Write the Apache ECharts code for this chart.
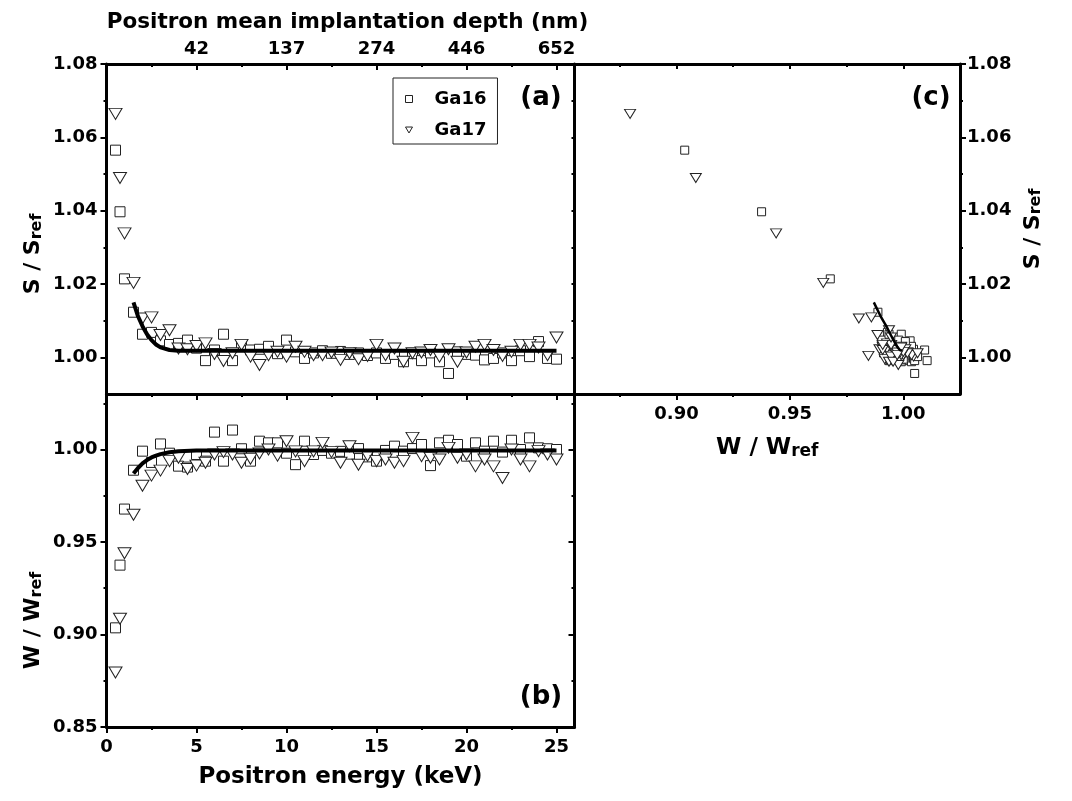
<!DOCTYPE html>
<html>
<head>
<meta charset="utf-8">
<script src="https://cdn.jsdelivr.net/npm/echarts@6.0.0/dist/echarts.min.js"></script>
<style>
html, body { margin: 0; padding: 0; background: #fff; }
#chart { width: 1072px; height: 801px; }
</style>
</head>
<body>
<div id="chart"></div>
<script>
// positron energy (keV), same for both samples
const energy = [0.5, 0.75, 1, 1.5, 2, 2.5, 3, 3.5, 4, 4.5, 5, 5.5, 6, 6.5, 7, 7.5, 8, 8.5, 9, 9.5,
    10, 10.5, 11, 11.5, 12, 12.5, 13, 13.5, 14, 14.5, 15, 15.5, 16, 16.5, 17, 17.5, 18, 18.5, 19, 19.5,
    20, 20.5, 21, 21.5, 22, 22.5, 23, 23.5, 24, 24.5, 25];

// S / Sref
const sGa16 = [1.0565, 1.0397, 1.0214, 1.0123, 1.0063, 1.0068, 1.0045, 1.0035, 1.0038, 1.0047,
    1.0025, 0.9991, 1.0020, 1.0063, 0.9991, 1.0035, 1.0020, 1.0022, 1.0030, 1.0010,
    1.0047, 1.0015, 0.9997, 1.0012, 1.0018, 1.0011, 1.0016, 1.0008, 1.0012, 1.0005,
    1.0012, 0.9997, 1.0008, 0.9988, 1.0010, 0.9991, 1.0012, 0.9988, 0.9956, 1.0015,
    1.0008, 1.0006, 0.9993, 0.9997, 1.0012, 0.9991, 1.0018, 1.0002, 1.0043, 0.9997, 0.9995];
const sGa17 = [1.0664, 1.0489, 1.0338, 1.0203, 1.0106, 1.0109, 1.0061, 1.0074, 1.0024, 1.0022,
    1.0031, 1.0038, 1.0009, 0.9990, 1.0011, 1.0034, 1.0002, 0.9979, 1.0006, 1.0015,
    1.0002, 1.0029, 1.0015, 1.0006, 1.0006, 1.0013, 0.9993, 1.0011, 0.9995, 1.0004,
    1.0034, 1.0006, 1.0024, 0.9988, 1.0011, 1.0013, 1.0020, 1.0002, 1.0022, 0.9988,
    1.0013, 1.0029, 1.0034, 1.0020, 1.0004, 1.0015, 1.0034, 1.0034, 1.0027, 1.0006, 1.0054];

// W / Wref
const wGa16 = [0.9036, 0.9375, 0.9678, 0.9888, 0.9991, 0.9930, 1.0030, 0.9980, 0.9910, 0.9905,
    0.9973, 0.9937, 1.0094, 0.9937, 1.0105, 1.0004, 0.9937, 1.0045, 1.0036, 1.0036,
    0.9980, 0.9918, 1.0045, 0.9973, 0.9995, 0.9980, 0.9990, 0.9975, 1.0005, 0.9960,
    0.9937, 0.9995, 1.0018, 0.9991, 1.0005, 1.0027, 0.9913, 1.0036, 1.0050, 1.0027,
    0.9964, 1.0036, 0.9991, 1.0045, 0.9986, 1.0050, 1.0000, 1.0063, 1.0009, 1.0004, 1.0000];
const wGa17 = [0.8795, 0.9085, 0.9439, 0.9647, 0.9804, 0.9859, 0.9886, 0.9937, 0.9955, 0.9895,
    0.9913, 0.9928, 0.9973, 0.9986, 0.9973, 0.9928, 0.9950, 0.9978, 1.0000, 0.9967,
    1.0045, 0.9990, 0.9937, 0.9990, 1.0036, 0.9986, 0.9928, 1.0018, 0.9918, 0.9967,
    0.9937, 0.9946, 0.9928, 0.9937, 1.0063, 0.9964, 0.9955, 0.9946, 1.0009, 0.9955,
    0.9973, 0.9909, 0.9946, 0.9909, 0.9846, 1.0000, 0.9946, 0.9909, 0.9991, 0.9973, 0.9946];

// fitted curves
const fitE = [1.5, 1.75, 2, 2.25, 2.5, 2.75, 3, 3.5, 4, 5, 25];
const fitS = [1.0150, 1.0112, 1.0085, 1.0063, 1.0047, 1.0035, 1.0027, 1.0020, 1.0018, 1.0018, 1.0018];
const fitW = [0.9870, 0.9900, 0.9925, 0.9943, 0.9957, 0.9967, 0.9975, 0.9985, 0.9990, 0.9994, 0.9995];

// tick positions / labels
const energyTicks = [0, 5, 10, 15, 20, 25];
const energyMinor = [2.5, 7.5, 12.5, 17.5, 22.5];
const depthTicks = [5, 10, 15, 20, 25];
const depthLabels = ['42', '137', '274', '446', '652'];
const sTicks = [1.00, 1.02, 1.04, 1.06, 1.08];
const sMinor = [1.01, 1.03, 1.05, 1.07];
const wTicks = [0.85, 0.90, 0.95, 1.00];
const wMinor = [0.875, 0.925, 0.975, 1.025];
const wcTicks = [0.90, 0.95, 1.00];
const wcMinor = [0.875, 0.925, 0.975];

const FONT = 'DejaVu Sans';
const tickFont = { fontFamily: FONT, fontWeight: 'bold', fontSize: 18, color: '#000' };
const zip = (a, b) => a.map((v, i) => [v, b[i]]);
const fix2 = v => v.toFixed(2);

function subRich(size, subSize, drop) {
    return {
        m: { fontFamily: FONT, fontWeight: 'bold', fontSize: size, color: '#000', lineHeight: size, verticalAlign: 'top' },
        s: { fontFamily: FONT, fontWeight: 'bold', fontSize: subSize, color: '#000', lineHeight: subSize, verticalAlign: 'bottom', padding: [drop, 0, 0, 0] }
    };
}

// one axis: line + ticks (+ labels)
function axis(grid, pos, min, max, o) {
    return {
        type: 'value', gridIndex: grid, position: pos, min: min, max: max,
        nameMoveOverlap: false,
        axisLine: { show: o.line !== false, onZero: false, lineStyle: { color: '#000', width: 3 } },
        axisTick: {
            show: !!o.ticks, customValues: o.ticks || [], length: o.len || 6, inside: !!o.inside,
            lineStyle: { color: '#000', width: 2 }
        },
        axisLabel: o.labels ? Object.assign({ customValues: o.labels, formatter: o.fmt, margin: o.margin || 8 }, tickFont) : { show: false },
        splitLine: { show: false },
        name: o.name || '', nameLocation: 'middle', nameGap: o.gap || 0, nameRotate: o.rotate || 0,
        nameTextStyle: o.nameStyle || {}
    };
}

const xAxes = [
    // 0,1: panel (a) bottom
    axis(0, 'bottom', 0, 26, { ticks: energyTicks, len: 6 }),
    axis(0, 'bottom', 0, 26, { ticks: energyMinor, len: 3, line: false }),
    // 2,3: panel (a) top, depth scale
    axis(0, 'top', 0, 26, {
        ticks: energyTicks, len: 6, inside: true, labels: depthTicks, margin: 6,
        fmt: v => depthLabels[depthTicks.indexOf(Math.round(v))],
        name: 'Positron mean implantation depth (nm)', gap: 31,
        nameStyle: { fontFamily: FONT, fontWeight: 'bold', fontSize: 21.5, color: '#000', padding: [0, 0, 0, 14] }
    }),
    axis(0, 'top', 0, 26, { ticks: energyMinor, len: 3, inside: true, line: false }),
    // 4,5: panel (b) bottom
    axis(1, 'bottom', 0, 26, {
        ticks: energyTicks, len: 6, labels: energyTicks, margin: 11, fmt: v => String(Math.round(v)),
        name: 'Positron energy (keV)', gap: 39,
        nameStyle: { fontFamily: FONT, fontWeight: 'bold', fontSize: 23, color: '#000', verticalAlign: 'top' }
    }),
    axis(1, 'bottom', 0, 26, { ticks: energyMinor, len: 3, line: false }),
    // 6,7: panel (c) bottom
    axis(2, 'bottom', 0.855, 1.025, {
        ticks: wcTicks, len: 6, labels: wcTicks, margin: 11, fmt: fix2,
        name: '{m|W / W}{s|ref}', gap: 43,
        nameStyle: { verticalAlign: 'top', rich: subRich(23, 17, 13) }
    }),
    axis(2, 'bottom', 0.855, 1.025, { ticks: wcMinor, len: 3, line: false }),
    // 8,9: panel (c) top
    axis(2, 'top', 0.855, 1.025, { ticks: wcTicks, len: 5, inside: true }),
    axis(2, 'top', 0.855, 1.025, { ticks: wcMinor, len: 3, inside: true, line: false })
];

const yAxes = [
    // 0,1: panel (a) left
    axis(0, 'left', 0.99, 1.08, {
        ticks: sTicks, len: 6, labels: sTicks, margin: 9, fmt: fix2,
        name: '{m|S / S}{s|ref}', gap: 62, rotate: 90,
        nameStyle: { padding: [0, 50, 0, 0], rich: subRich(22, 16, 12) }
    }),
    axis(0, 'left', 0.99, 1.08, { ticks: sMinor, len: 3, line: false }),
    // 2: panel (a) right (shared with c)
    axis(0, 'right', 0.99, 1.08, { ticks: sTicks.concat(sMinor), len: 3, inside: true }),
    // 3,4: panel (b) left
    axis(1, 'left', 0.85, 1.03, {
        ticks: wTicks, len: 6, labels: wTicks, margin: 9, fmt: fix2,
        name: '{m|W / W}{s|ref}', gap: 62, rotate: 90,
        nameStyle: { padding: [0, 120, 0, 0], rich: subRich(22, 16, 12) }
    }),
    axis(1, 'left', 0.85, 1.03, { ticks: wMinor, len: 3, line: false }),
    // 5,6: panel (b) right
    axis(1, 'right', 0.85, 1.03, { ticks: wTicks, len: 6, inside: true }),
    axis(1, 'right', 0.85, 1.03, { ticks: wMinor, len: 3, inside: true, line: false }),
    // 7,8: panel (c) right
    axis(2, 'right', 0.99, 1.08, {
        ticks: sTicks, len: 6, labels: sTicks, margin: 7, fmt: fix2,
        name: '{m|S / S}{s|ref}', gap: 62, rotate: 90,
        nameStyle: { rich: subRich(22, 16, 12) }
    }),
    axis(2, 'right', 0.99, 1.08, { ticks: sMinor, len: 3, line: false })
];

const markStyle = { color: '#fff', borderColor: '#222', borderWidth: 1, opacity: 1 };

function fitLine(x, y, xi, yi, w) {
    return {
        type: 'line', xAxisIndex: xi, yAxisIndex: yi, data: zip(x, y), symbol: 'none',
        lineStyle: { color: '#000', width: w }, silent: true
    };
}
function dots(name, x, y, xi, yi, tri, big) {
    return {
        name: name, type: 'scatter', xAxisIndex: xi, yAxisIndex: yi, data: zip(x, y),
        symbol: tri ? 'triangle' : 'rect',
        symbolRotate: tri ? 180 : 0,
        symbolSize: tri ? (big ? [13, 11] : [11, 9]) : (big ? 10 : 8),
        itemStyle: markStyle
    };
}

const option = {
    animation: false,
    backgroundColor: '#fff',
    grid: [
        { left: 106.5, top: 64, width: 468, height: 330 },
        { left: 106.5, top: 394, width: 468, height: 333 },
        { left: 574.5, top: 64, width: 385.5, height: 330 }
    ],
    xAxis: xAxes,
    yAxis: yAxes,
    legend: {
        data: [
            { name: 'Ga16', icon: 'rect' },
            { name: 'Ga17', icon: 'path://M0,0L10,0L5,8.5Z' }
        ],
        orient: 'vertical', left: 393, top: 78,
        padding: [11, 11, 4, 12], itemGap: 11, itemWidth: 7, itemHeight: 7,
        itemStyle: { color: '#fff', borderColor: '#222', borderWidth: 1 },
        borderColor: '#222', borderWidth: 1, selectedMode: false,
        textStyle: { fontFamily: FONT, fontWeight: 'bold', fontSize: 18, color: '#000', lineHeight: 20, padding: [0, 0, 0, 17] }
    },
    graphic: [
        { type: 'text', x: 541, y: 98, style: { text: '(a)', fontFamily: FONT, fontWeight: 'bold', fontSize: 26, fill: '#000', align: 'center', verticalAlign: 'middle' } },
        { type: 'text', x: 541, y: 697, style: { text: '(b)', fontFamily: FONT, fontWeight: 'bold', fontSize: 26, fill: '#000', align: 'center', verticalAlign: 'middle' } },
        { type: 'text', x: 931, y: 98, style: { text: '(c)', fontFamily: FONT, fontWeight: 'bold', fontSize: 26, fill: '#000', align: 'center', verticalAlign: 'middle' } }
    ],
    series: [
        fitLine(fitE, fitS, 0, 0, 4),
        dots('Ga16', energy, sGa16, 0, 0, false, true),
        dots('Ga17', energy, sGa17, 0, 0, true, true),
        fitLine(fitE, fitW, 4, 3, 4),
        dots('Ga16', energy, wGa16, 4, 3, false, true),
        dots('Ga17', energy, wGa17, 4, 3, true, true),
        fitLine(fitW, fitS, 6, 7, 2.5),
        dots('Ga16', wGa16, sGa16, 6, 7, false, false),
        dots('Ga17', wGa17, sGa17, 6, 7, true, false)
    ]
};

echarts.init(document.getElementById('chart')).setOption(option);
</script>
</body>
</html>
